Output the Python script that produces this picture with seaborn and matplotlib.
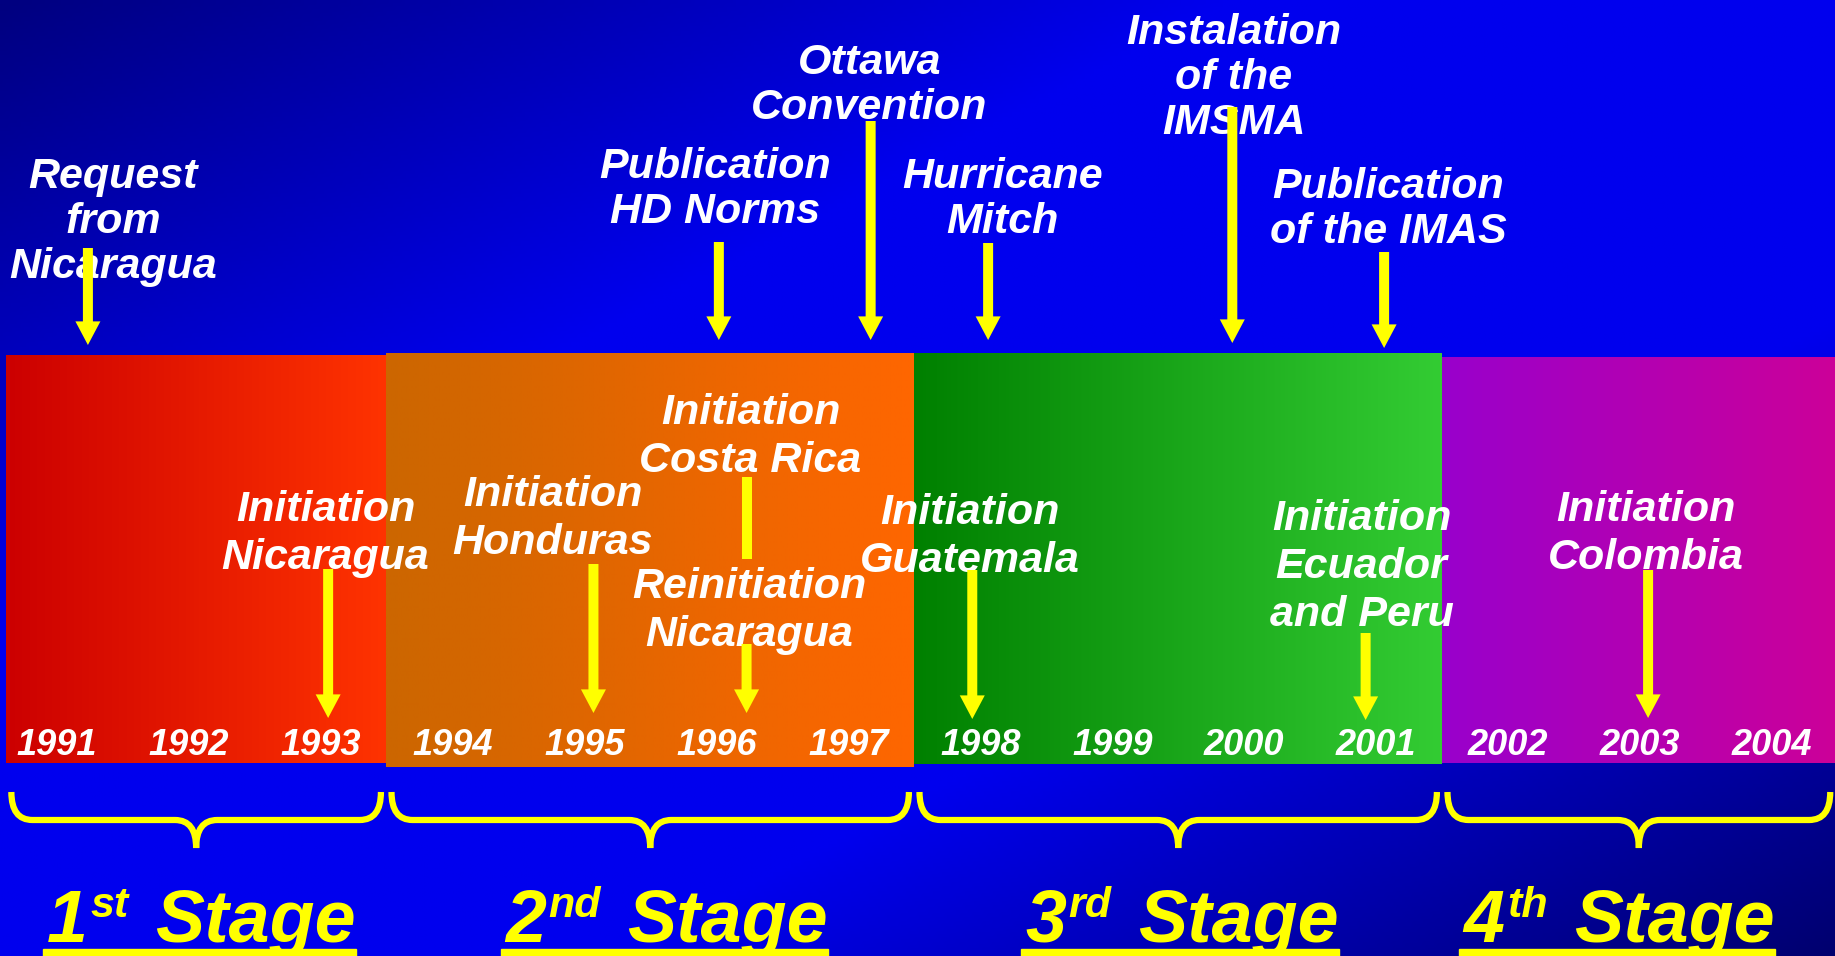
import numpy as np
import matplotlib
matplotlib.use("Agg")
import matplotlib.pyplot as plt
from matplotlib.path import Path
from matplotlib.patches import PathPatch, Rectangle
import seaborn as sns

# ---- data ----
years = list(range(1991, 2005))

stage_numbers = ["1", "2", "3", "4"]
stage_suffixes = ["st", "nd", "rd", "th"]
stage_starts = [1990.62, 1993.5, 1997.5, 2001.5]
stage_ends = [1993.5, 1997.5, 2001.5, 2004.48]
stage_colors = [["#CC0000", "#FF3300"], ["#CC6600", "#FF6600"],
                ["#008000", "#33CC33"], ["#9900CC", "#CC0099"]]

top_events = ["Request\nfrom\nNicaragua", "Publication\nHD Norms", "Ottawa\nConvention",
              "Hurricane\nMitch", "Instalation\nof the\nIMSMA", "Publication\nof the IMAS"]
top_event_years = [1991.24, 1996.02, 1997.17, 1998.06, 1999.91, 2001.06]

band_events = ["Initiation\nNicaragua", "Initiation\nHonduras", "Initiation\nCosta Rica",
               "Reinitiation\nNicaragua", "Initiation\nGuatemala",
               "Initiation\nEcuador\nand Peru", "Initiation\nColombia"]
band_event_years = [1993.06, 1995.07, 1996.23, 1996.23, 1997.94, 2000.92, 2003.06]

# ---- layout (y in pixels from the top) ----
top_text_dx = [0.19, -0.03, -0.01, 0.11, 0.01, 0.03]
top_text_y = [157, 147, 43, 157, 13, 167]
top_arrow_y = [(248, 345), (242, 340), (121, 340), (243, 340), (107, 343), (252, 348)]

band_text_dx = [-0.02, -0.31, 0.03, 0.02, -0.02, -0.03, -0.02]
band_text_y = [490, 475, 393, 567, 493, 499, 490]
band_arrow_y = [(569, 718), (564, 713), (477, 559), (644, 713), (570, 719), (633, 720), (570, 718)]
band_arrow_head = [True, True, False, True, True, True, True]

band_top = [355, 353, 353, 357]
band_bottom = [763, 767, 764, 763]
stage_label_x = [1990.93, 1994.40, 1998.34, 2001.66]

x_lo, x_hi = 1990.574, 2004.476
H = 956

sns.set_style("white")
plt.rcParams["font.family"] = ["Liberation Sans", "DejaVu Sans"]
txt = dict(fontweight="bold", fontstyle="italic")

fig = plt.figure(figsize=(18.35, 9.56), dpi=100)
ax = fig.add_axes([0, 0, 1, 1])
ax.axis("off")

# blue diagonal background
bg_pal = np.array(sns.blend_palette(["#000080", "#0000EE", "#0000EE", "#00006E"], n_colors=256))
gx = np.linspace(0, 1, 400)
gy = np.linspace(0, 1, 200)
d = (gx[None, :] + gy[:, None]) / 2
bg = bg_pal[(d * 255).astype(int)]
ax.imshow(bg, extent=[x_lo, x_hi, H, 0], aspect="auto", zorder=0, interpolation="bilinear")

# stage bands with horizontal gradient
for i in range(len(stage_starts)):
    pal = np.array(sns.blend_palette(stage_colors[i], n_colors=128))[None, :, :]
    ax.imshow(pal, extent=[stage_starts[i], stage_ends[i], band_bottom[i], band_top[i]],
              aspect="auto", zorder=1, interpolation="bilinear")

# year labels
for y in years:
    ax.text(y, 755, str(y), ha="center", va="baseline", color="white", fontsize=26, zorder=3, **txt)


def arrow(x, y0, y1, head=True):
    if head:
        ax.annotate("", xy=(x, y1), xytext=(x, y0), zorder=4,
                    arrowprops=dict(arrowstyle="simple,head_length=1.7,head_width=1.8,tail_width=0.72",
                                    color="yellow", mutation_scale=10, shrinkA=0, shrinkB=0, lw=0))
    else:
        ax.plot([x, x], [y0, y1], color="yellow", lw=7.2, solid_capstyle="butt", zorder=4)


for lab, yr, dx, ty, (a0, a1) in zip(top_events, top_event_years, top_text_dx, top_text_y, top_arrow_y):
    ax.text(yr + dx, ty, lab, ha="center", va="top", color="white", fontsize=31,
            linespacing=1.16, zorder=3, **txt)
    arrow(yr, a0, a1)

for lab, yr, dx, ty, (a0, a1), hd in zip(band_events, band_event_years, band_text_dx,
                                         band_text_y, band_arrow_y, band_arrow_head):
    ax.text(yr + dx, ty, lab, ha="center", va="top", color="white", fontsize=31,
            linespacing=1.25, zorder=3, **txt)
    arrow(yr, a0, a1, hd)


# curly braces under each stage
def brace(x0, x1, ytop=792, ymid=820, ytip=848, r=0.16):
    xc = (x0 + x1) / 2
    verts = [(x0, ytop), (x0, ymid), (x0 + r, ymid), (xc - r, ymid), (xc, ymid), (xc, ytip),
             (xc, ymid), (xc + r, ymid), (x1 - r, ymid), (x1, ymid), (x1, ytop)]
    codes = [Path.MOVETO, Path.CURVE3, Path.CURVE3, Path.LINETO, Path.CURVE3, Path.CURVE3,
             Path.CURVE3, Path.CURVE3, Path.LINETO, Path.CURVE3, Path.CURVE3]
    ax.add_patch(PathPatch(Path(verts, codes), fill=False, edgecolor="yellow", lw=4.5, zorder=3))


for s, e in zip(stage_starts, stage_ends):
    brace(s + 0.04, e - 0.04)

# stage labels with superscripts and underline
renderer = fig.canvas.get_renderer()
px_per_year = fig.bbox.width / (x_hi - x_lo)
for i in range(len(stage_numbers)):
    x = stage_label_x[i]
    t1 = ax.text(x, 942, stage_numbers[i], ha="left", va="baseline", color="yellow",
                 fontsize=53, zorder=3, **txt)
    x2 = x + t1.get_window_extent(renderer).width / px_per_year + 0.02
    t2 = ax.text(x2, 886, stage_suffixes[i], ha="left", va="top", color="yellow",
                 fontsize=31, zorder=3, **txt)
    x3 = x2 + t2.get_window_extent(renderer).width / px_per_year + 0.2
    t3 = ax.text(x3, 942, "Stage", ha="left", va="baseline", color="yellow",
                 fontsize=53, zorder=3, **txt)
    x4 = x3 + t3.get_window_extent(renderer).width / px_per_year
    ax.add_patch(Rectangle((x - 0.03, 949), x4 - x + 0.03, 12, color="yellow", zorder=3))

ax.set_xlim(x_lo, x_hi)
ax.set_ylim(H, 0)
fig.savefig("out.png", dpi=100)
